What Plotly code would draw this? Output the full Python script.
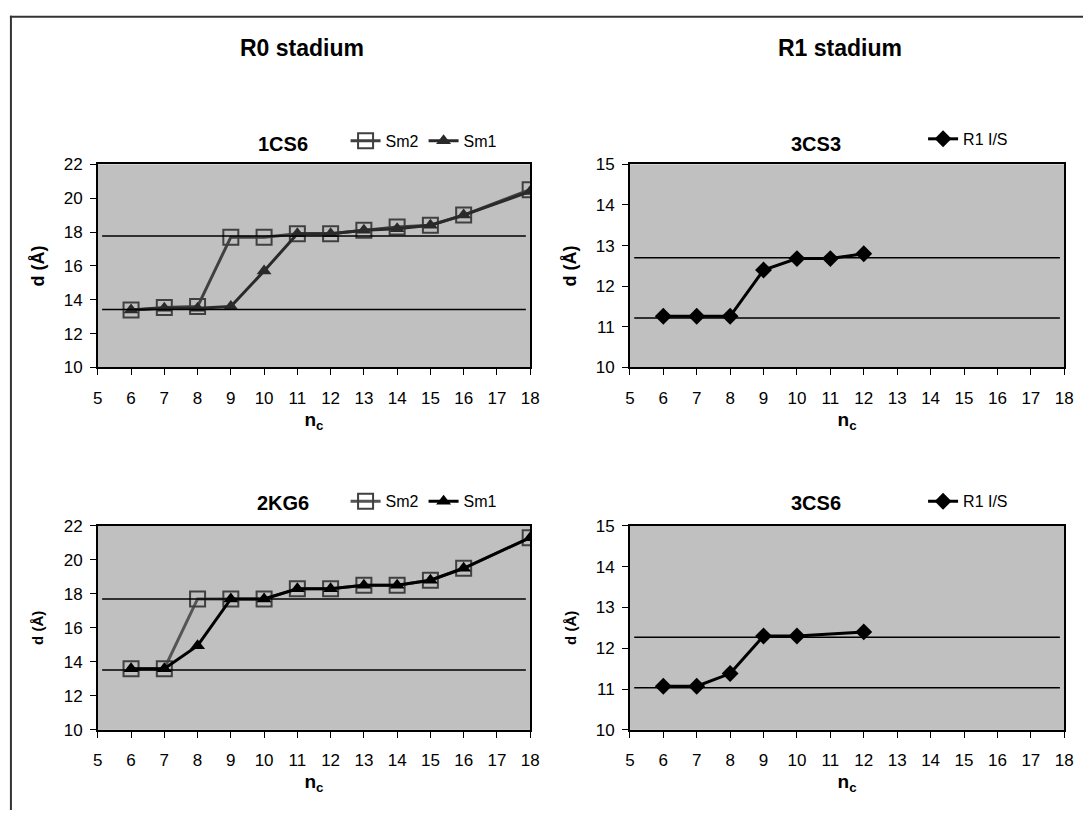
import plotly.graph_objects as go

W, H = 1092, 820

# ---------------- data ----------------
nc_r0 = [6, 7, 8, 9, 10, 11, 12, 13, 14, 15, 16, 18]
cs1_sm2 = [13.4, 13.55, 13.6, 17.7, 17.7, 17.9, 17.9, 18.1, 18.3, 18.4, 19.0, 20.5]
cs1_sm1 = [13.4, 13.5, 13.5, 13.6, 15.7, 17.9, 17.9, 18.1, 18.2, 18.4, 19.0, 20.4]
cs1_levels = [17.77, 13.42]

kg2_sm2 = [13.6, 13.6, 17.7, 17.7, 17.7, 18.3, 18.3, 18.5, 18.5, 18.8, 19.5, 21.3]
kg2_sm1 = [13.6, 13.6, 14.95, 17.7, 17.7, 18.3, 18.3, 18.5, 18.5, 18.8, 19.5, 21.3]
kg2_levels = [17.7, 13.52]

nc_cs3 = [6, 7, 8, 9, 10, 11, 12]
cs3_r1 = [11.26, 11.26, 11.26, 12.4, 12.68, 12.68, 12.8]
cs3_levels = [12.7, 11.22]

nc_cs6 = [6, 7, 8, 9, 10, 12]
cs6_r1 = [11.07, 11.07, 11.38, 12.3, 12.3, 12.4]
cs6_levels = [12.27, 11.03]

x_ticks = list(range(5, 19))
y_ticks_r0 = [10, 12, 14, 16, 18, 20, 22]
y_ticks_r1 = [10, 11, 12, 13, 14, 15]

FONT = "Liberation Sans, Arial, sans-serif"

def px_x(p):
    return p / W

def px_y(p):
    return 1 - p / H

fig = go.Figure()

panels = {
    "1": dict(x=(94, 532), y=(159, 367)),
    "2": dict(x=(633, 1073), y=(159, 367)),
    "3": dict(x=(94, 532), y=(529, 738)),
    "4": dict(x=(633, 1073), y=(529, 738)),
}

def axis_name(k, a):
    return a if k == "1" else a + k

# ---- traces ----
fig.add_trace(go.Scatter(x=nc_r0, y=cs1_sm2, name="Sm2", mode="lines+markers",
                         line=dict(color="#404040", width=3),
                         marker=dict(symbol="square-open", size=15, color="#404040", line=dict(width=2)),
                         xaxis="x", yaxis="y", legend="legend"))
fig.add_trace(go.Scatter(x=nc_r0, y=cs1_sm1, name="Sm1", mode="lines+markers",
                         line=dict(color="#2a2a2a", width=3),
                         marker=dict(symbol="triangle-up", size=13, color="#2a2a2a"),
                         xaxis="x", yaxis="y", legend="legend"))
fig.add_trace(go.Scatter(x=nc_cs3, y=cs3_r1, name="R1 I/S", mode="lines+markers",
                         line=dict(color="#000000", width=3),
                         marker=dict(symbol="diamond", size=13, color="#000000"),
                         xaxis="x2", yaxis="y2", legend="legend2"))
fig.add_trace(go.Scatter(x=nc_r0, y=kg2_sm2, name="Sm2", mode="lines+markers",
                         line=dict(color="#555555", width=3),
                         marker=dict(symbol="square-open", size=15, color="#404040", line=dict(width=2)),
                         xaxis="x3", yaxis="y3", legend="legend3"))
fig.add_trace(go.Scatter(x=nc_r0, y=kg2_sm1, name="Sm1", mode="lines+markers",
                         line=dict(color="#000000", width=3),
                         marker=dict(symbol="triangle-up", size=13, color="#000000"),
                         xaxis="x3", yaxis="y3", legend="legend3"))
fig.add_trace(go.Scatter(x=nc_cs6, y=cs6_r1, name="R1 I/S", mode="lines+markers",
                         line=dict(color="#000000", width=3),
                         marker=dict(symbol="diamond", size=13, color="#000000"),
                         xaxis="x4", yaxis="y4", legend="legend4"))

# ---- reference lines ----
levels = {"1": cs1_levels, "2": cs3_levels, "3": kg2_levels, "4": cs6_levels}
shapes = []
for k, lv in levels.items():
    for v in lv:
        shapes.append(dict(type="line", xref=axis_name(k, "x") + " domain", yref=axis_name(k, "y"),
                           x0=0.01, x1=0.99, y0=v, y1=v,
                           line=dict(color="#000000", width=1.5), layer="above"))
# outer frame (left and top edges visible)
shapes.append(dict(type="line", xref="paper", yref="paper",
                   x0=px_x(6), x1=px_x(6), y0=px_y(7), y1=0,
                   line=dict(color="#333333", width=2)))
shapes.append(dict(type="line", xref="paper", yref="paper",
                   x0=px_x(5), x1=1, y0=px_y(8), y1=px_y(8),
                   line=dict(color="#333333", width=2)))

layout = dict(
    width=W, height=H,
    margin=dict(l=0, r=0, t=0, b=0),
    paper_bgcolor="white",
    plot_bgcolor="#C0C0C0",
    font=dict(family=FONT, size=17, color="#000000"),
    shapes=shapes,
)

ytitle_size = {"1": 18, "2": 18, "3": 15, "4": 15}
ytitle_standoff = {"1": 14, "2": 14, "3": 16, "4": 16}
yticks = {"1": y_ticks_r0, "2": y_ticks_r1, "3": y_ticks_r0, "4": y_ticks_r1}
yrange = {"1": [10, 22], "2": [10, 15], "3": [10, 22], "4": [10, 15]}

for k, p in panels.items():
    xa = "xaxis" if k == "1" else "xaxis" + k
    ya = "yaxis" if k == "1" else "yaxis" + k
    layout[xa] = dict(
        domain=[px_x(p["x"][0]), px_x(p["x"][1])],
        anchor=axis_name(k, "y"),
        range=[5, 18], tickvals=x_ticks, ticks="outside", ticklen=6, tickwidth=1,
        tickcolor="#000", showgrid=False, zeroline=False,
        showline=True, linecolor="#000", linewidth=1.5, mirror=True,
        tickfont=dict(size=17, family=FONT), ticklabelstandoff=8,
        title=dict(text="<b>n<sub>c</sub></b>", font=dict(size=19, family=FONT), standoff=6),
    )
    layout[ya] = dict(
        domain=[px_y(p["y"][1]), px_y(p["y"][0])],
        anchor=axis_name(k, "x"),
        range=yrange[k], tickvals=yticks[k], ticks="outside", ticklen=6, tickwidth=1,
        tickcolor="#000", showgrid=False, zeroline=False,
        showline=True, linecolor="#000", linewidth=1.5, mirror=True,
        tickfont=dict(size=17, family=FONT), ticklabelstandoff=4,
        title=dict(text="<b>d (Å)</b>", font=dict(size=ytitle_size[k], family=FONT),
                   standoff=ytitle_standoff[k]),
    )

leg_common = dict(orientation="h", bgcolor="rgba(0,0,0,0)", borderwidth=0,
                  font=dict(size=16, family=FONT), xanchor="left", yanchor="middle",
                  itemwidth=30, tracegroupgap=0, itemclick=False)
layout["legend"] = dict(leg_common, x=px_x(345), y=px_y(135))
layout["legend2"] = dict(leg_common, x=px_x(930), y=px_y(133))
layout["legend3"] = dict(leg_common, x=px_x(345), y=px_y(504))
layout["legend4"] = dict(leg_common, x=px_x(930), y=px_y(504))

annotations = [
    dict(text="<b>R0 stadium</b>", x=px_x(301), y=px_y(40), font=dict(size=23)),
    dict(text="<b>R1 stadium</b>", x=px_x(846), y=px_y(40), font=dict(size=23)),
    dict(text="<b>1CS6</b>", x=px_x(282), y=px_y(138), font=dict(size=20)),
    dict(text="<b>3CS3</b>", x=px_x(822), y=px_y(138), font=dict(size=20)),
    dict(text="<b>2KG6</b>", x=px_x(282), y=px_y(506), font=dict(size=20)),
    dict(text="<b>3CS6</b>", x=px_x(822), y=px_y(506), font=dict(size=20)),
]
for a in annotations:
    a.update(xref="paper", yref="paper", showarrow=False, xanchor="center", yanchor="middle")
    a["font"]["family"] = FONT
    a["font"]["color"] = "#000"
layout["annotations"] = annotations

fig.update_layout(**layout)
fig.write_html("out.html")
